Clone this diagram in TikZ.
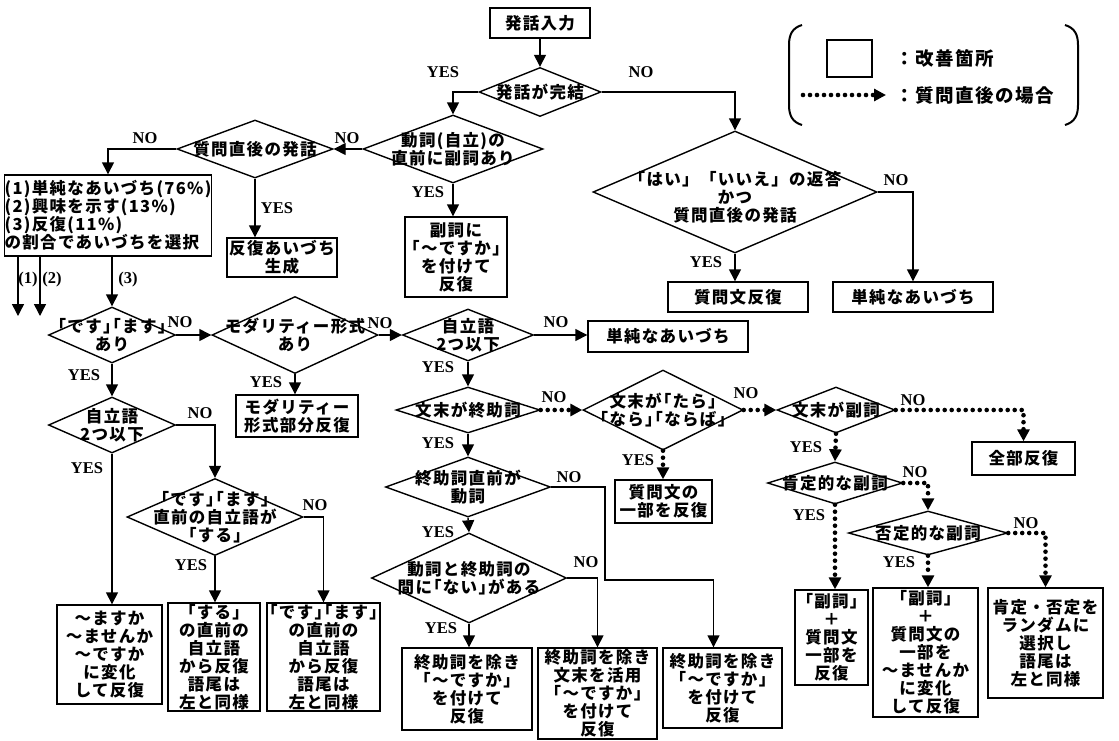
\documentclass[tikz,border=0pt]{standalone}
\usepackage{fontspec}
\setmainfont{Noto Sans CJK JP}
\newfontfamily\serifl{Liberation Serif}
\usetikzlibrary{arrows.meta,shapes.geometric,positioning}
\newcommand{\jpsize}{\fontsize{16.5}{18}\selectfont\bfseries\addfontfeature{LetterSpace=8}}
\newcommand{\lgsize}{\fontsize{18.5}{20}\selectfont\bfseries\addfontfeature{LetterSpace=8}}

\begin{document}
\begin{tikzpicture}[x=1pt, y=-1pt, >={Triangle[length=12pt, width=12pt]},
    box/.style={draw, line width=1.4pt, align=center, inner sep=0pt, font=\jpsize},
    dec/.style={draw, diamond, line width=1.4pt, inner sep=0pt},
    txt/.style={align=center, inner sep=0pt, font=\jpsize},
    lbl/.style={inner sep=0pt, font=\serifl\fontsize{16.5}{18}\selectfont\bfseries},
    ar/.style={->, line width=1.4pt},
    dar/.style={->, line width=4.6pt, line cap=round, dash pattern=on 0pt off 7pt}]
  \useasboundingbox (0,0) rectangle (1119,740);
  % --- legend ---
  \draw[line width=2pt] (802,25) .. controls (792,28) and (789,35) .. (789,45) -- (789,105)
    .. controls (789,115) and (792,122) .. (802,125);
  \draw[line width=2pt] (1065,25) .. controls (1075,28) and (1078,35) .. (1078,45) -- (1078,105)
    .. controls (1078,115) and (1075,122) .. (1065,125);
  \node[draw, line width=1.4pt, minimum width=45pt, minimum height=37pt] (lgbox) at (849.5,58.5) {};
  \node[txt, font=\lgsize, anchor=west] (lgtxt1) at (895,58) {：改善箇所};
  \coordinate (lga) at (803,95);
  \coordinate (lgb) at (886,95);
  \draw[dar] (lga) -- (lgb);
  \node[txt, font=\lgsize, anchor=west] (lgtxt2) at (895,95) {：質問直後の場合};
  % --- top: input and completion ---
  \node[box, minimum width=100pt, minimum height=30pt] (input) at (540,23) {発話入力};
  \node[dec, minimum width=122pt, minimum height=49pt, label={[txt]center:発話が完結}] (comp) at (540,92) {};
  \draw[ar] (input) -- (comp);
  \node[lbl] (comp-y) at (443,72) {YES};
  \node[lbl] (comp-n) at (641,72) {NO};
  % --- incomplete utterance ---
  \node[dec, minimum width=284pt, minimum height=122pt,
        label={[txt, yshift=-5pt]center:{「はい」「いいえ」の返答\\かつ\\質問直後の発話}}] (qa) at (735,192) {};
  \node[box, minimum width=140pt, minimum height=30pt] (qrep) at (738,297) {質問文反復};
  \node[box, minimum width=160pt, minimum height=30pt] (simple1) at (913,297) {単純なあいづち};
  \draw[ar] (comp.east) -| (qa.north);
  \draw[ar] (qa.south) -- (qa.south |- qrep.north);
  \draw[ar] (qa.east) -| (simple1.north);
  \node[lbl] (qa-y) at (706,262) {YES};
  \node[lbl] (qa-n) at (896,180) {NO};
  % --- adverb before verb ---
  \node[dec, minimum width=180pt, minimum height=68pt, label={[txt]center:{動詞(自立)の\\直前に副詞あり}}] (verb) at (453,149) {};
  \node[box, minimum width=102pt, minimum height=80pt] (advq) at (456,257) {副詞に\\｢〜ですか｣\\を付けて\\反復};
  \draw[ar] (comp.west) -| (verb.north);
  \draw[ar] (verb.south) -- (verb.south |- advq.north);
  \node[lbl] (verb-y) at (428,192) {YES};
  \node[lbl] (verb-n) at (347,138) {NO};
  % --- right after a question ---
  \node[dec, minimum width=156pt, minimum height=58pt, label={[txt]center:質問直後の発話}] (post) at (255,149) {};
  \node[box, minimum width=110pt, minimum height=39pt] (rep) at (282,257.5) {反復あいづち\\生成};
  \node[box, align=left, minimum width=202pt, minimum height=81pt] (ratio) at (108,215.5)
    {(1)単純なあいづち(76\%)\\(2)興味を示す(13\%)\\(3)反復(11\%)\\の割合であいづちを選択};
  \draw[ar] (verb.west) -- (post.east);
  \draw[ar] (post.west) -| (ratio.north);
  \draw[ar] (post.south) -- (post.south |- rep.north);
  \node[lbl] (post-y) at (277,208) {YES};
  \node[lbl] (post-n) at (145,138) {NO};
  % --- three choices ---
  \coordinate (c1) at (18,316);
  \coordinate (c2) at (40,316);
  \draw[ar] (ratio.south -| c1) -- (c1);
  \draw[ar] (ratio.south -| c2) -- (c2);
  \node[lbl] (r1) at (28,280) {(1)};
  \node[lbl] (r2) at (52,280) {(2)};
  \node[lbl] (r3) at (128,280) {(3)};
  % --- desu/masu branch ---
  \node[dec, minimum width=127pt, minimum height=56pt, label={[txt]center:{｢です｣｢ます｣\\あり}}] (desu) at (112,335) {};
  \draw[ar] (ratio.south -| desu.north) -- (desu.north);
  \node[lbl] (desu-y) at (84,375) {YES};
  \node[lbl] (desu-n) at (180,322) {NO};
  \node[dec, minimum width=127pt, minimum height=56pt, label={[txt]center:{自立語\\2つ以下}}] (ind0) at (112,425) {};
  \draw[ar] (desu.south) -- (ind0.north);
  \node[lbl] (ind0-y) at (87,468) {YES};
  \node[lbl] (ind0-n) at (200,413) {NO};
  \node[dec, minimum width=176pt, minimum height=77pt,
        label={[txt]center:{｢です｣｢ます｣\\直前の自立語が\\｢する｣}}] (suru) at (215,517) {};
  \draw[ar] (ind0.east) -| (suru.north);
  \node[lbl] (suru-y) at (191,565) {YES};
  \node[lbl] (suru-n) at (315,505) {NO};
  \node[box, minimum width=105pt, minimum height=99pt] (mas) at (109.5,654.5)
    {〜ますか\\〜ませんか\\〜ですか\\に変化\\して反復};
  \node[box, minimum width=92pt, minimum height=108pt] (sbox) at (214,657)
    {｢する｣\\の直前の\\自立語\\から反復\\語尾は\\左と同様};
  \node[box, minimum width=113pt, minimum height=108pt] (dbox) at (323.5,657)
    {｢です｣｢ます｣\\の直前の\\自立語\\から反復\\語尾は\\左と同様};
  \draw[ar] (ind0.south) -- (ind0.south |- mas.north);
  \draw[ar] (suru.south) -- (suru.south |- sbox.north);
  \draw[ar] (suru.east) -| (dbox.north);
  % --- modality ---
  \node[dec, minimum width=166pt, minimum height=77pt, label={[txt]center:{モダリティー形式\\あり}}] (moda) at (295,335) {};
  \node[box, minimum width=122pt, minimum height=42pt] (modrep) at (297,416) {モダリティー\\形式部分反復};
  \draw[ar] (desu.east) -- (moda.west);
  \draw[ar] (moda.south) -- (moda.south |- modrep.north);
  \node[lbl] (moda-y) at (266,382) {YES};
  \node[lbl] (moda-n) at (380,323) {NO};
  % --- independent words ---
  \node[dec, minimum width=131pt, minimum height=52pt, label={[txt]center:{自立語\\2つ以下}}] (ind1) at (468,335) {};
  \node[box, minimum width=160pt, minimum height=31pt] (simple2) at (668,336.5) {単純なあいづち};
  \draw[ar] (moda.east) -- (ind1.west);
  \draw[ar] (ind1.east) -- (ind1.east -| simple2.west);
  \node[lbl] (ind1-y) at (438,367) {YES};
  \node[lbl] (ind1-n) at (556,322) {NO};
  % --- sentence end ---
  \node[dec, minimum width=144pt, minimum height=46pt, label={[txt]center:文末が終助詞}] (endp) at (468,410) {};
  \draw[ar] (ind1.south) -- (endp.north);
  \node[lbl] (endp-y) at (438,443) {YES};
  \node[lbl] (endp-n) at (554,397) {NO};
  \node[dec, minimum width=160pt, minimum height=80pt, label={[txt]center:{文末が｢たら｣\\｢なら｣｢ならば｣}}] (tara) at (663,410) {};
  \node[box, minimum width=97pt, minimum height=43pt] (qpart) at (663.5,501.5) {質問文の\\一部を反復};
  \draw[dar] (endp.east) -- (tara.west);
  \draw[dar] (tara.south) -- (tara.south |- qpart.north);
  \node[lbl] (tara-y) at (638,460) {YES};
  \node[lbl] (tara-n) at (746,393) {NO};
  % --- adverb at sentence end ---
  \node[dec, minimum width=118pt, minimum height=46pt, label={[txt]center:文末が副詞}] (adv) at (836,410) {};
  \node[box, minimum width=103pt, minimum height=33pt] (allrep) at (1023.5,458.5) {全部反復};
  \draw[dar] (tara.east) -- (adv.west);
  \draw[dar] (adv.east) -| (allrep.north);
  \node[lbl] (adv-y) at (806,447) {YES};
  \node[lbl] (adv-n) at (913,400) {NO};
  \node[dec, minimum width=135pt, minimum height=42pt, label={[txt]center:肯定的な副詞}] (pos) at (835,483) {};
  \node[dec, minimum width=159pt, minimum height=44pt, label={[txt]center:否定的な副詞}] (neg) at (928,533) {};
  \draw[dar] (adv.south) -- (pos.north);
  \draw[dar] (pos.east) -| (neg.north);
  \node[lbl] (pos-y) at (809,515) {YES};
  \node[lbl] (pos-n) at (915,472) {NO};
  \node[lbl] (neg-y) at (899,562) {YES};
  \node[lbl] (neg-n) at (1026,523) {NO};
  \node[box, minimum width=73pt, minimum height=95pt] (adv1) at (831.5,637.5)
    {｢副詞｣\\＋\\質問文\\一部を\\反復};
  \node[box, minimum width=105pt, minimum height=129pt] (adv2) at (925.5,652.5)
    {｢副詞｣\\＋\\質問文の\\一部を\\〜ませんか\\に変化\\して反復};
  \node[box, minimum width=115pt, minimum height=110pt] (rand) at (1045.5,643)
    {肯定・否定を\\ランダムに\\選択し\\語尾は\\左と同様};
  \draw[dar] (pos.south) -- (pos.south |- adv1.north);
  \draw[dar] (neg.south) -- (neg.south |- adv2.north);
  \draw[dar] (neg.east) -| (rand.north);
  % --- sentence-final particle ---
  \node[dec, minimum width=165pt, minimum height=60pt, label={[txt]center:{終助詞直前が\\動詞}}] (pre) at (468,487) {};
  \draw[ar] (endp.south) -- (pre.north);
  \node[lbl] (pre-y) at (438,532) {YES};
  \node[lbl] (pre-n) at (569,477) {NO};
  \node[dec, minimum width=195pt, minimum height=90pt, label={[txt]center:{動詞と終助詞の\\間に｢ない｣がある}}] (nai) at (469,578) {};
  \draw[ar] (pre.south) -- (nai.north);
  \node[lbl] (nai-y) at (441,628) {YES};
  \node[lbl] (nai-n) at (586,562) {NO};
  \node[box, minimum width=130pt, minimum height=82pt] (boxA) at (467,689)
    {終助詞を除き\\｢〜ですか｣\\を付けて\\反復};
  \node[box, minimum width=119pt, minimum height=91pt] (boxB) at (597.5,693.5)
    {終助詞を除き\\文末を活用\\｢〜ですか｣\\を付けて\\反復};
  \node[box, minimum width=119pt, minimum height=80pt] (boxC) at (722.5,688)
    {終助詞を除き\\｢〜ですか｣\\を付けて\\反復};
  \coordinate (k1) at (605,580);
  \draw[ar] (nai.south) -- (nai.south |- boxA.north);
  \draw[ar] (nai.east) -| (boxB.north);
  \draw[ar] (pre.east) -| (k1) -| ([xshift=-9pt]boxC.north);
\end{tikzpicture}
\end{document}
